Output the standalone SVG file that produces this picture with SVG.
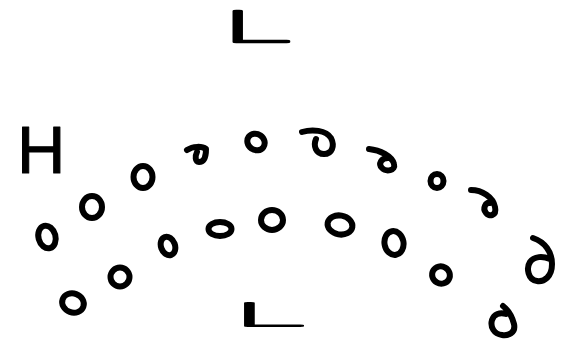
<svg xmlns="http://www.w3.org/2000/svg" width="565" height="350" viewBox="0 0 565 350">
<style>
.m{fill:none;stroke:#000;stroke-width:6;stroke-linecap:round;stroke-linejoin:round}
.t{font-family:"Liberation Sans",Arial,sans-serif;fill:#000;stroke:#000;stroke-width:1;stroke-linejoin:round}
.l{font-family:Inter,"Noto Sans",sans-serif;font-weight:100;fill:#000;stroke:#000;stroke-width:5.5;stroke-linejoin:round;stroke-linecap:round;vector-effect:non-scaling-stroke}
</style>
<rect width="565" height="350" fill="#fff"/>
<text class="t" x="17" y="173" font-size="67">H</text>
<text class="l" x="-4.2" y="0" font-size="42" transform="translate(234.5,42) scale(3.1,1)">L</text>
<text class="l" x="-3" y="0" font-size="31.5" transform="translate(245.5,325.5) scale(4.3,1)">L</text>
<g id="marks">
<ellipse class="m" cx="143" cy="177" rx="9.5" ry="11"/>
<ellipse class="m" cx="92" cy="207" rx="10" ry="11"/>
<ellipse class="m" cx="47" cy="237" rx="8.5" ry="11.5" transform="rotate(-15 47 237)"/>
<ellipse class="m" cx="168" cy="246" rx="7" ry="9.5" transform="rotate(-20 168 246)"/>
<circle class="m" cx="120" cy="277" r="9.5"/>
<ellipse class="m" cx="73" cy="303" rx="11" ry="9.5" transform="rotate(20 73 303)"/>
<ellipse class="m" cx="220" cy="229" rx="11.5" ry="7"/>
<ellipse class="m" cx="272" cy="220" rx="11" ry="10"/>
<ellipse class="m" cx="340" cy="225" rx="12.5" ry="9.5" transform="rotate(10 340 225)"/>
<ellipse class="m" cx="394" cy="243" rx="9.5" ry="12" transform="rotate(-10 394 243)"/>
<ellipse class="m" cx="441" cy="275" rx="9" ry="8.5" transform="rotate(30 441 275)"/>
<ellipse class="m" cx="256" cy="142" rx="9" ry="8" transform="rotate(35 256 142)"/>
<path class="m" d="M187,150 C193,146 202,146 206,149 C206,157 204,162 199,162 C195,162 195,156 197,152"/>
<path class="m" d="M302,132 C312,129 326,130 331,138 C335,146 332,154 324,154 C316,154 313,146 316,139"/>
<path class="m" d="M369,149 C380,150 392,156 394,164 C396,171 386,172 382,168 C378,164 381,158 388,158"/>
<ellipse class="m" cx="437" cy="181" rx="6.5" ry="7"/>
<path class="m" d="M471,190 C482,190 493,197 495,207 C497,216 489,217 486,213 C482,208 486,202 490,203"/>
<path class="m" d="M533,238 C545,242 552,252 552,264 C552,277 544,282 537,281 C528,280 526,268 530,262 C534,256 543,256 550,259"/>
<path class="m" d="M503,306 C508,310 512,316 514,324 C516,333 508,336 502,335 C494,334 490,327 492,320 C494,314 500,312 506,314"/>
</g>
</svg>
